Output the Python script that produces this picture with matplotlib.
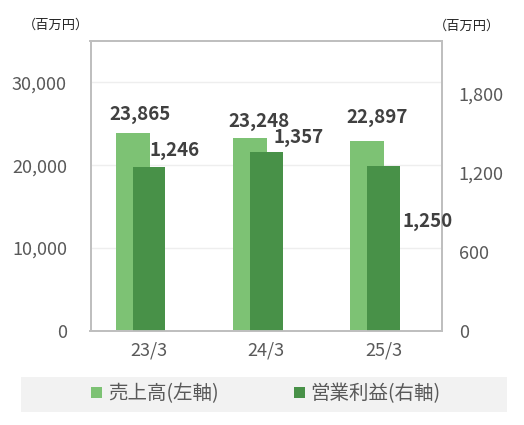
import matplotlib
matplotlib.use("Agg")
import matplotlib.pyplot as plt
from matplotlib.patches import Rectangle

# data
periods = ["23/3", "24/3", "25/3"]
sales = [23865, 23248, 22897]          # 売上高 (left axis)
op_profit = [1246, 1357, 1250]         # 営業利益 (right axis)
left_ticks = [0, 10000, 20000, 30000]
right_ticks = [0, 600, 1200, 1800]

plt.rcParams['font.family'] = ['Noto Sans CJK JP', 'DejaVu Sans']

LIGHT = '#7DC274'
DARK = '#489148'
GRAY_TXT = '#595959'
LABEL_TXT = '#404040'
FRAME = '#BFBFBF'

fig = plt.figure(figsize=(5.24, 4.25), dpi=100)
ax = fig.add_axes([90.5 / 524, (425 - 330.7) / 425, 351.5 / 524, 289.7 / 425])
ax2 = ax.twinx()

x = list(range(len(periods)))

# light bars shifted left, dark bars on category centre
b1 = ax.bar([i - 0.14 for i in x], sales, width=0.29, color=LIGHT, zorder=2,
            label='売上高(左軸)')
b2 = ax2.bar(x, op_profit, width=0.28, color=DARK, zorder=2,
             label='営業利益(右軸)')

ax.set_xlim(-0.5, 2.5)
ax.set_ylim(0, 35000)
ax2.set_ylim(0, 2200)

ax.set_yticks(left_ticks)
ax.set_yticklabels([f"{v:,}" for v in left_ticks])
ax2.set_yticks(right_ticks)
ax2.set_yticklabels([f"{v:,}" for v in right_ticks])
ax.set_xticks(x)
ax.set_xticklabels(periods)

ax.tick_params(axis='y', length=0, pad=17, labelsize=13, labelcolor=GRAY_TXT)
ax2.tick_params(axis='y', length=0, pad=12, labelsize=13, labelcolor=GRAY_TXT)
ax.tick_params(axis='x', length=0, pad=8, labelsize=13, labelcolor=GRAY_TXT)

ax.grid(axis='y', color='#EEEEEE', linewidth=1, zorder=0)
ax.set_axisbelow(True)
for a in (ax, ax2):
    for s in a.spines.values():
        s.set_color(FRAME)
        s.set_linewidth(1.3)

# data labels (hand placed in the original)
sales_off = [(7, 19), (9, 17), (10, 24)]
for bar, v, off in zip(b1, sales, sales_off):
    ax.annotate(f"{v:,}", (bar.get_x() + bar.get_width() / 2, bar.get_height()),
                xytext=off, textcoords='offset pixels', ha='center', va='center',
                fontsize=13.5, fontweight='bold', color=LABEL_TXT)
op_off = [(25, 16), (32, 15), (44, -55)]
for bar, v, off in zip(b2, op_profit, op_off):
    ax2.annotate(f"{v:,}", (bar.get_x() + bar.get_width() / 2, bar.get_height()),
                 xytext=off, textcoords='offset pixels', ha='center', va='center',
                 fontsize=13.5, fontweight='bold', color=LABEL_TXT)

# unit labels
fig.text(56 / 524, 1 - 25 / 425, '（百万円）', ha='center', va='center',
         fontsize=9.5, color='#262626')
fig.text(467 / 524, 1 - 26 / 425, '（百万円）', ha='center', va='center',
         fontsize=9.5, color='#262626')

# legend with grey band
fig.patches.append(Rectangle((21 / 524, 1 - 411.7 / 425), 485.7 / 524, 35 / 425,
                             transform=fig.transFigure, facecolor='#F2F2F2',
                             edgecolor='none', zorder=0))
leg = fig.legend(handles=[b1, b2], loc='center', ncol=2,
                 bbox_to_anchor=(266 / 524, 1 - 394 / 425), frameon=False,
                 fontsize=14, handlelength=0.55, handleheight=0.55,
                 handletextpad=0.3, columnspacing=3.9)
for t in leg.get_texts():
    t.set_color(GRAY_TXT)

fig.savefig('out.png', dpi=100)
